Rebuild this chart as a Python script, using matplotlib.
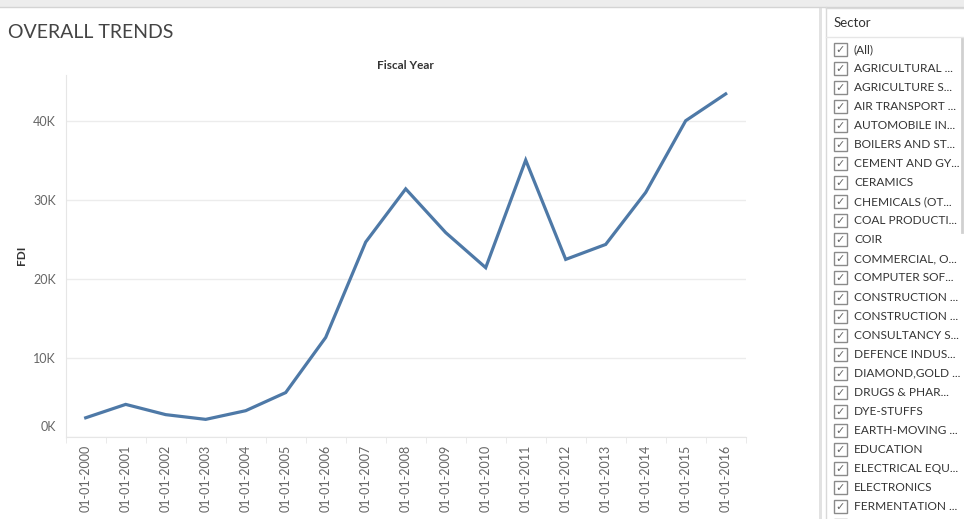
import matplotlib.pyplot as plt
from matplotlib.patches import Rectangle
from matplotlib.transforms import ScaledTranslation

plt.rcParams['font.family'] = ['Lato', 'DejaVu Sans']

# Données
annees = ["01-01-%d" % a for a in range(2000, 2017)]
fdi = [2400, 4100, 2800, 2200, 3300, 5600, 12600, 24700, 31450, 25900,
       21450, 35100, 22500, 24400, 31000, 40100, 43500]
yticks = [0, 10000, 20000, 30000, 40000]
ytick_labels = ["0K", "10K", "20K", "30K", "40K"]

secteurs = ["(All)", "AGRICULTURAL ...", "AGRICULTURE S...", "AIR TRANSPORT ...",
            "AUTOMOBILE IN...", "BOILERS AND ST...", "CEMENT AND GY...", "CERAMICS",
            "CHEMICALS (OT...", "COAL PRODUCTI...", "COIR", "COMMERCIAL, O...",
            "COMPUTER SOF...", "CONSTRUCTION ...", "CONSTRUCTION ...", "CONSULTANCY S...",
            "DEFENCE INDUS...", "DIAMOND,GOLD ...", "DRUGS & PHAR...", "DYE-STUFFS",
            "EARTH-MOVING ...", "EDUCATION", "ELECTRICAL EQU...", "ELECTRONICS",
            "FERMENTATION ..."]

W, H = 964, 519
fig = plt.figure(figsize=(W / 100, H / 100), dpi=100)

# Calque de fond en pixels pour le cadre et le filtre
bg = fig.add_axes([0, 0, 1, 1])
bg.set_xlim(0, W)
bg.set_ylim(H, 0)
bg.axis("off")
bg.add_patch(Rectangle((0, 0), W, 7, color="#ededed", lw=0))
bg.plot([0, W], [7, 7], color="#d4d4d4", lw=1)
bg.add_patch(Rectangle((818.5, 7), 3, H, color="#e2e2e2", lw=0))
bg.plot([826, 826], [7, H], color="#d9d9d9", lw=1)
bg.plot([826, W], [7.5, 7.5], color="#d9d9d9", lw=1)
bg.plot([826, W], [37, 37], color="#e6e6e6", lw=1)
bg.plot([961.5, 961.5], [39, 232], color="#d0d0d0", lw=2)

bg.text(8, 33, "OVERALL TRENDS", fontsize=14, color="#444444", fontweight="normal",
        va="center", ha="left")
bg.text(834, 23, "Sector", fontsize=9.5, color="#333333", va="center")
bg.text(22, 255, "FDI", fontsize=8.5, fontweight="bold", color="#333333", rotation=90,
        va="center", ha="center")

for i, nom in enumerate(secteurs):
    y = 49.5 + i * 19.04
    bg.add_patch(Rectangle((834, y - 6.5), 13, 13, fill=False, ec="#8a8a8a", lw=1))
    bg.text(840.5, y + 0.5, "\u2713", fontsize=8, color="#666666", ha="center", va="center",
            family=["DejaVu Sans"])
    bg.text(854, y, nom, fontsize=8.6, color="#333333", va="center", ha="left")
# case coupée en bas du filtre
bg.add_patch(Rectangle((834, 49.5 + 25 * 19.04 - 6.5), 13, 13, fill=False, ec="#8a8a8a", lw=1))

# Graphique principal
x0, x1 = 65.7, 745.7
ybas, yhaut = 436.7, 75
ax = fig.add_axes([x0 / W, (H - ybas) / H, (x1 - x0) / W, (ybas - yhaut) / H])
ax.patch.set_alpha(0)
pos = list(range(len(annees)))
ax.plot(pos, fdi, color="#4e79a7", lw=2.3, solid_joinstyle="miter")
ax.set_xlim(-0.5, len(annees) - 0.5)
ax.set_ylim(0, 45900)

ax.set_yticks(yticks)
ax.set_yticklabels(ytick_labels)
ax.set_xticks(pos)
ax.set_xticklabels(annees, rotation=90)
ax.set_xticks([p - 0.5 for p in pos] + [len(annees) - 0.5], minor=True)
ax.tick_params(axis="x", which="major", length=0, pad=6, labelsize=9, labelcolor="#666666")
ax.tick_params(axis="x", which="minor", length=4, color="#e6e6e6", direction="out")
ax.tick_params(axis="y", length=0, pad=7, labelsize=9, labelcolor="#666666")
ax.grid(axis="y", color="#ececec", lw=1)
ax.set_axisbelow(True)
for s in ["top", "right"]:
    ax.spines[s].set_visible(False)
ax.spines["left"].set_color("#e6e6e6")
ax.spines["bottom"].set_color("#e6e6e6")

# Le label 0K est décalé vers le haut comme dans Tableau
lab0 = ax.yaxis.get_major_ticks()[0].label1
lab0.set_va("bottom")
lab0.set_transform(lab0.get_transform() + ScaledTranslation(0, 4 / 100, fig.dpi_scale_trans))

ax.set_title("Fiscal Year", fontsize=8.5, fontweight="bold", color="#333333", pad=4)

fig.savefig("out.png", dpi=100)
